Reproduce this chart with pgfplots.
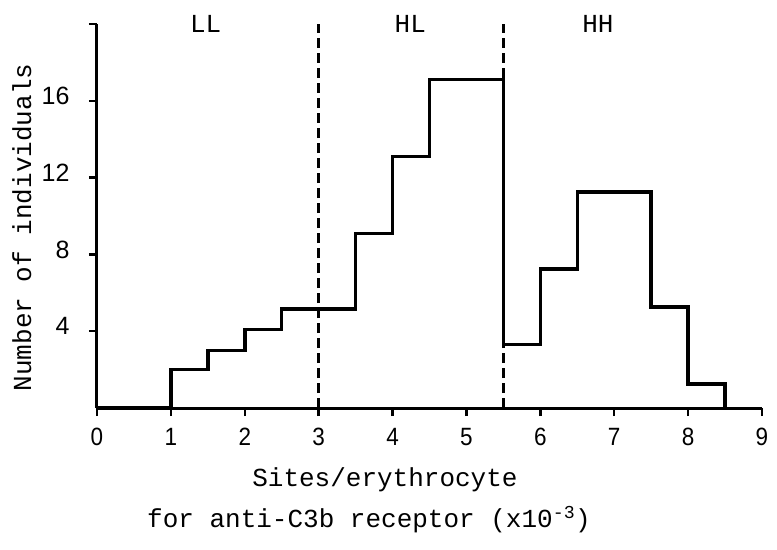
\documentclass[border=0pt]{standalone}
\usepackage{fontspec}
\setmainfont{Liberation Mono}
\setsansfont{Liberation Sans}
\usepackage{pgfplots}
\pgfplotsset{compat=1.18}
\begin{document}
\begin{tikzpicture}
\begin{axis}[
 scale only axis, width=665pt, height=384pt,
 xmin=0, xmax=9, ymin=0, ymax=20,
 axis x line=bottom, axis y line=left,
 axis line style={-, line width=3pt},
 xtick={0,1,...,9}, ytick={4,8,12,16,20}, yticklabels={4,8,12,16,{}},
 tick align=outside, major tick length=8pt,
 tick style={line width=2.5pt, black},
 /pgf/number format/assume math mode=true,
 tick label style={font=\sffamily\fontsize{25}{30}\selectfont},
 every x tick label/.append style={yshift=-9pt, xscale=0.9},
 every y tick label/.append style={xshift=-16pt, yshift=5pt},
 label style={font=\fontsize{26}{30}\selectfont},
 xlabel={Sites/erythrocyte},
 xlabel style={at={(axis description cs:0.433,-0.1875)}, anchor=center},
 ylabel={Number of individuals},
 ylabel style={at={(axis description cs:-0.1128,0.47)}, anchor=center},
 clip=false,
]
\addplot[const plot, line width=3.5pt, black] coordinates {
 (0,0) (1,2.0) (1.5,3.0) (2,4.1) (2.5,5.15) (3.5,9.1) (4,13.1) (4.5,17.1)
 (5.5,3.3) (6,7.25) (6.5,11.25) (7.5,5.25) (8,1.25) (8.5,0)
};
\addplot[line width=3pt, black, dash pattern=on 10pt off 5pt] coordinates {(3,0) (3,20)};
\addplot[line width=3pt, black, dash pattern=on 10pt off 5pt] coordinates {(5.5,0) (5.5,20)};
\node[font=\fontsize{26}{30}\selectfont, anchor=center] at (axis cs:1.47,20) {LL};
\node[font=\fontsize{26}{30}\selectfont, anchor=center] at (axis cs:4.24,20) {HL};
\node[font=\fontsize{26}{30}\selectfont, anchor=center] at (axis cs:6.78,20) {HH};
\node[font=\fontsize{26}{30}\selectfont, anchor=center] at (axis description cs:0.409,-0.2917) {for anti-C3b receptor (x10\textsuperscript{-3})};
\end{axis}
\pgfresetboundingbox
\path ([xshift=-97pt,yshift=-141pt]current axis.south west) rectangle ([xshift=15pt,yshift=24pt]current axis.north east);
\end{tikzpicture}
\end{document}
